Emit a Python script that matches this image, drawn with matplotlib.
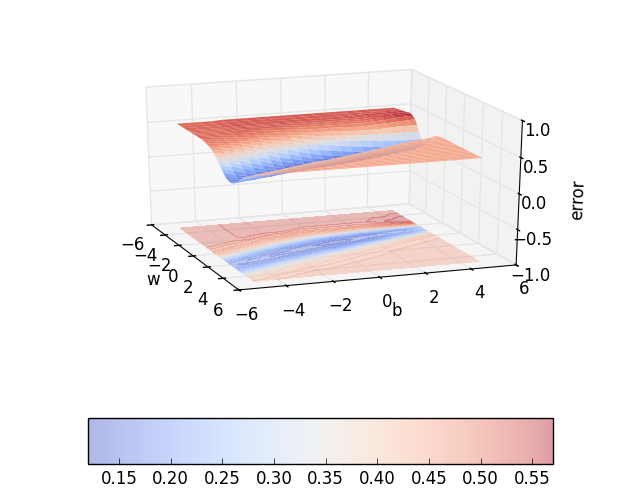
import matplotlib
matplotlib.use("Agg")
import matplotlib.pyplot as plt
from matplotlib import cm
from matplotlib.collections import Collection
import numpy as np

w_vals = [-5, -4.5, -4, -3.5, -3.25, -3, -2.75, -2.5, -2.25, -2, -1.75, -1.5, -1.25, -1, -0.75, -0.5, -0.25, 0,
          0.25, 0.5, 0.75, 1, 1.25, 1.5, 1.75, 2, 2.25, 2.5, 2.75, 3, 3.25, 3.5, 3.75, 4, 4.25, 4.5, 4.75, 4.9]
b_vals = [-5, -4.5, -4, -3.5, -3, -2.5, -2, -1.5, -1, -0.5, 0, 0.5, 1, 1.5, 2, 2.5, 3, 3.5, 4, 4.5, 4.8]
# one list per b value, running along w
error_by_b = [
    [.52] * 12 + [.51, .50, .49, .48, .46, .43, .40, .36, .32, .28, .24, .20, .18, .17, .17, .18, .20, .23, .27, .30, .34, .37, .39, .41, .42, .44],
    [.52] * 11 + [.51, .50, .49, .48, .46, .43, .40, .36, .32, .28, .24, .20, .18, .17, .16, .18, .20, .23, .27, .30, .34, .37, .39, .41, .42, .44, .44],
    [.52] * 10 + [.51, .50, .49, .48, .46, .43, .40, .36, .32, .28, .24, .20, .17, .16, .16, .17, .19, .22, .26, .30, .34, .37, .39, .41, .42, .44, .44, .45],
    [.52] * 9 + [.51, .50, .49, .48, .46, .43, .40, .36, .32, .27, .23, .19, .17, .16, .15, .17, .19, .22, .26, .29, .33, .36, .39, .41, .42, .44, .44, .45, .45],
    [.53] * 8 + [.52, .51, .49, .48, .46, .43, .40, .36, .31, .27, .23, .19, .17, .15, .15, .16, .19, .22, .26, .29, .33, .36, .39, .41, .42, .44, .44, .45, .45, .45],
    [.53] * 7 + [.52, .51, .49, .48, .46, .43, .40, .36, .31, .27, .23, .19, .17, .15, .15, .16, .19, .22, .26, .29, .33, .36, .39, .41, .42, .44, .44, .45, .45, .45, .45],
    [.53] * 6 + [.52, .51, .49, .48, .46, .43, .39, .35, .31, .26, .22, .18, .16, .15, .14, .16, .18, .21, .25, .29, .33, .36, .39, .41, .42, .44, .44, .45, .45, .45, .45, .45],
    [.53] * 6 + [.52, .50, .49, .47, .45, .42, .38, .33, .28, .23, .19, .16, .14, .14, .15, .17, .20, .25, .29, .33, .36, .39, .41, .42, .43, .44, .44, .45, .45, .45, .45, .45],
    [.53] * 6 + [.52, .50, .48, .46, .43, .39, .34, .29, .24, .20, .16, .14, .14, .15, .17, .20, .24, .28, .32, .35, .38, .40, .42, .43, .44, .44, .45, .45, .45, .45, .45, .45],
    [.53] * 5 + [.52, .50, .49, .46, .44, .40, .35, .30, .25, .20, .17, .14, .13, .14, .16, .19, .23, .27, .31, .35, .38, .40, .42, .43, .44, .44, .45, .45, .45, .45, .45, .45, .45],
    [.53] * 4 + [.52, .51, .50, .48, .45, .42, .38, .33, .27, .22, .18, .15, .13, .13, .15, .17, .21, .25, .30, .34, .37, .40, .42, .43, .44, .44, .45, .45, .45, .45, .45, .45, .45, .45],
    [.53] * 4 + [.52, .51, .50, .48, .45, .41, .37, .31, .25, .19, .16, .13, .13, .14, .16, .20, .24, .29, .33, .37, .40, .42, .43, .44, .44, .45, .45, .45, .45, .45, .45, .45, .45, .45],
    [.53] * 4 + [.52, .51, .50, .48, .45, .40, .35, .29, .23, .18, .15, .13, .14, .16, .19, .24, .29, .33, .37, .40, .42, .43, .44, .44, .45, .45, .45, .45, .45, .45, .45, .45, .45, .45],
    [.53] * 4 + [.52, .51, .50, .48, .44, .39, .34, .27, .21, .17, .14, .14, .15, .19, .23, .28, .33, .37, .40, .42, .43, .44, .44, .45, .45, .45, .45, .45, .45, .45, .45, .45, .45, .45],
    [.53] * 4 + [.52, .51, .50, .47, .43, .38, .32, .25, .19, .15, .14, .15, .18, .23, .28, .33, .37, .40, .42, .44, .44, .45, .45, .45, .45, .45, .45, .45, .45, .45, .45, .45, .45, .45],
    [.53] * 4 + [.52, .51, .50, .47, .43, .38, .31, .24, .19, .15, .15, .17, .21, .26, .32, .37, .40, .42, .44, .44, .45, .45, .45, .45, .45, .45, .45, .45, .45, .45, .45, .45, .45, .45],
    [.53, .53, .54, .54, .53, .52, .51, .48, .43, .37, .29, .22, .18, .16, .17, .21, .26, .32, .37, .40, .43, .44, .44] + [.45] * 15,
    [.53, .53, .54, .55, .55, .54, .52, .49, .44, .37, .29, .22, .17, .17, .20, .25, .30, .35, .40, .43, .44, .44] + [.45] * 16,
    [.53, .53, .54, .55, .56, .56, .54, .50, .45, .37, .28, .21, .18, .19, .23, .29, .35, .39, .42, .44, .44] + [.45] * 17,
    [.53, .54, .55, .56, .57, .57, .55, .51, .45, .37, .28, .22, .20, .23, .28, .34, .39, .42, .44, .44] + [.45] * 18,
    [.53, .54, .55, .56, .57, .57, .55, .52, .45, .37, .28, .22, .23, .27, .33, .39, .42, .44, .44] + [.45] * 19,
]
ticks = [-6, -4, -2, 0, 2, 4, 6]
z_ticks = [-1.0, -0.5, 0.0, 0.5, 1.0]
cbar_ticks = [0.15, 0.20, 0.25, 0.30, 0.35, 0.40, 0.45, 0.50, 0.55]

plt.style.use("classic")
fig = plt.figure(figsize=(6.4, 4.98), dpi=100)
ax = fig.add_axes([0.078, 0.322, 0.849, 0.636], projection="3d")
ax.apply_aspect = lambda position=None: None
ax.set_box_aspect((1, 1, 0.90), zoom=0.865)

W, B = np.meshgrid(w_vals, b_vals, indexing="ij")
Z = np.array(error_by_b).T
norm = plt.Normalize(0.12, 0.57)
ax.plot_surface(W, B, Z, rstride=1, cstride=1, cmap=cm.coolwarm, norm=norm,
                alpha=0.9, linewidth=0)
ax.contourf(W, B, Z, 40, zdir="z", offset=-1, cmap=cm.coolwarm, norm=norm, alpha=0.35)

ax.set_xlim(-6, 6)
ax.set_ylim(-6, 6)
ax.set_zlim(-1, 1)
ax.set_xticks(ticks)
ax.set_yticks(ticks)
ax.set_zticks(z_ticks)
ax.set_xlabel("w", labelpad=3)
ax.set_ylabel("b")
ax.set_zlabel("error", labelpad=3)
ax.tick_params(axis="z", pad=-2)
ax.view_init(elev=21.5, azim=-20)

cax = fig.add_axes([88 / 640, 1 - 464 / 498, 465 / 640, 46 / 498])
# the colorbar is paler than the surface, so it gets its own mappable
proxy = Collection(norm=norm, cmap=cm.coolwarm, alpha=0.4)
cb = fig.colorbar(proxy, cax=cax, orientation="horizontal", ticks=cbar_ticks)
cb.solids.set_antialiased(True)

fig.savefig("out.png", dpi=100)
